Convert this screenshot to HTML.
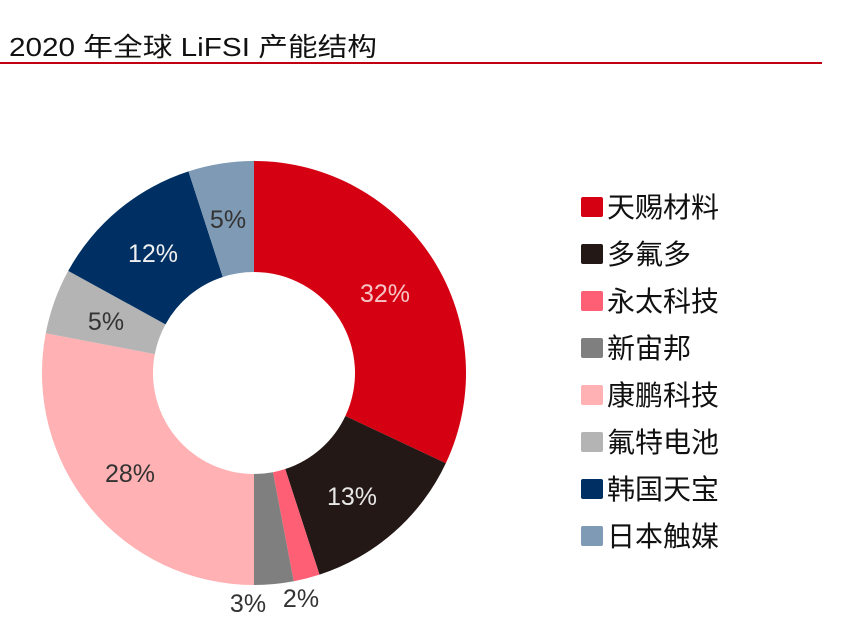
<!DOCTYPE html>
<html><head><meta charset="utf-8"><style>
body{margin:0;background:#fff;width:864px;height:641px;overflow:hidden;font-family:"Liberation Sans","Noto Sans CJK SC",sans-serif;}
</style></head><body>
<svg width="864" height="641" xmlns="http://www.w3.org/2000/svg" style="position:absolute;left:0;top:0">
<text x="9" y="56" font-size="26" fill="#111" font-family="Liberation Sans, Noto Sans CJK SC, sans-serif" textLength="368" lengthAdjust="spacingAndGlyphs">2020 年全球 LiFSI 产能结构</text>
<rect x="0" y="62" width="822" height="2" fill="#c00010"/>
<g id="d"></g>
<g font-family="Liberation Sans, sans-serif" font-size="25" text-anchor="middle">
<text x="385" y="302" fill="#f5c4c4">32%</text>
<text x="352" y="505" fill="#e8e8e8">13%</text>
<text x="301" y="607" fill="#333">2%</text>
<text x="248" y="612" fill="#333">3%</text>
<text x="130" y="482" fill="#333">28%</text>
<text x="106" y="330" fill="#333">5%</text>
<text x="153" y="262" fill="#f0f0f0">12%</text>
<text x="228" y="228" fill="#333">5%</text>
</g>
<g font-family="Liberation Sans, Noto Sans CJK SC, sans-serif" font-size="28" fill="#111">
<rect x="581" y="197" width="22" height="20" rx="2" fill="#d50012"/><text x="607" y="217">天赐材料</text>
<rect x="581" y="244" width="22" height="20" rx="2" fill="#231815"/><text x="607" y="264">多氟多</text>
<rect x="581" y="291" width="22" height="20" rx="2" fill="#ff5f74"/><text x="607" y="311">永太科技</text>
<rect x="581" y="338" width="22" height="20" rx="2" fill="#7f7f7f"/><text x="607" y="358">新宙邦</text>
<rect x="581" y="385" width="22" height="20" rx="2" fill="#ffb1b3"/><text x="607" y="405">康鹏科技</text>
<rect x="581" y="432" width="22" height="20" rx="2" fill="#b4b4b4"/><text x="607" y="452">氟特电池</text>
<rect x="581" y="479" width="22" height="20" rx="2" fill="#003063"/><text x="607" y="499">韩国天宝</text>
<rect x="581" y="526" width="22" height="20" rx="2" fill="#7f9ab5"/><text x="607" y="546">日本触媒</text>
</g>
</svg>
<script>
var vals=[32,13,2,3,28,5,12,5],cols=["#d50012","#231815","#ff5f74","#7f7f7f","#ffb1b3","#b4b4b4","#003063","#7f9ab5"];
var cx=254,cy=373,R=212,r=101,a=0,s="";
function p(rad,ang){var t=(ang/100)*2*Math.PI-Math.PI/2;return [cx+rad*Math.cos(t),cy+rad*Math.sin(t)];}
for(var i=0;i<vals.length;i++){var b=a+vals[i];var l=vals[i]>50?1:0;
var o1=p(R,a),o2=p(R,b),i2=p(r,b),i1=p(r,a);
s+='<path d="M'+o1+' A'+R+','+R+' 0 '+l+' 1 '+o2+' L'+i2+' A'+r+','+r+' 0 '+l+' 0 '+i1+' Z" fill="'+cols[i]+'"/>';a=b;}
document.getElementById("d").innerHTML=s;
</script>
</body></html>
